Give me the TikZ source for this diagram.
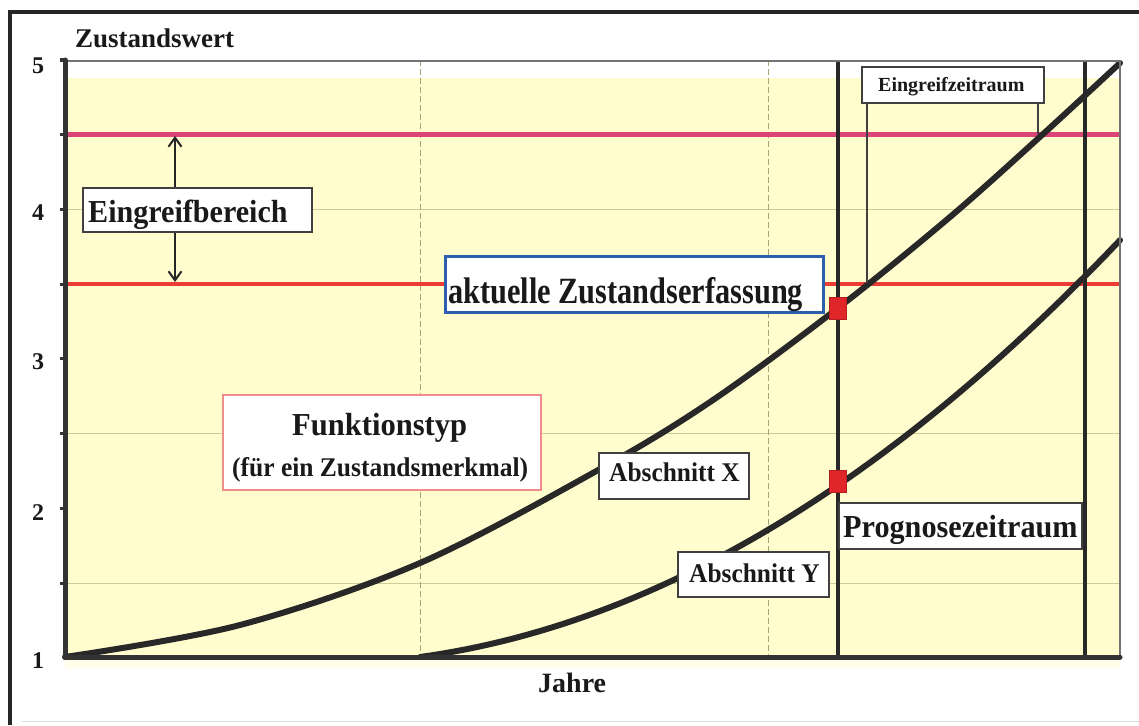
\documentclass[tikz,border=0pt]{standalone}
\usepackage{fontspec}
\setmainfont{Liberation Serif}
\usepackage{graphicx}
\usetikzlibrary{arrows.meta}
\definecolor{bgyellow}{RGB}{255,252,205}
\definecolor{pinkthr}{RGB}{218,68,118}
\definecolor{redthr}{RGB}{236,58,52}
\definecolor{curvecol}{RGB}{40,40,40}
\definecolor{gridcol}{RGB}{205,205,150}
\definecolor{bluebord}{RGB}{45,95,175}
\definecolor{pinkbord}{RGB}{240,140,140}
\definecolor{sqred}{RGB}{225,38,42}
\newcommand\lab[3]{\scalebox{#2}[1]{\fontsize{#1}{#1}\selectfont\bfseries #3}}
\tikzset{
  framestyle/.style={line width=4pt, draw=black!85},
  gridline/.style={line width=1pt, draw=gridcol},
  vgridline/.style={line width=1pt, draw=gridcol!80!black, dash pattern=on 6pt off 3pt},
  thrpink/.style={line width=5pt, draw=pinkthr},
  thrred/.style={line width=4.5pt, draw=redthr},
  curveline/.style={line width=6pt, draw=curvecol, line cap=round},
  vline/.style={line width=3.5pt, draw=curvecol},
  axisline/.style={line width=5pt, draw=black!80, line cap=round, line join=round},
  plotframe/.style={line width=1.5pt, draw=black!55},
  labbox/.style={draw=black!75, line width=1.5pt, fill=white, inner sep=0pt},
  txt/.style={inner sep=0pt, anchor=base west, text=black!90},
  numtxt/.style={inner sep=0pt, text=black!90},
  sqmark/.style={fill=sqred, draw=sqred!80!black, line width=0.5pt, minimum width=17pt, minimum height=22pt, inner sep=0pt},
  bracketline/.style={line width=1.5pt, draw=black!75},
  dblarrow/.style={line width=2pt, draw=black!85, {Straight Barb[length=9pt,width=13pt,line width=2pt]}-{Straight Barb[length=9pt,width=13pt,line width=2pt]}}
}
\begin{document}
\begin{tikzpicture}[x=1pt,y=-1pt]
\useasboundingbox (0,0) rectangle (1139,725);
\fill[white] (0,0) rectangle (1139,725);
% outer frame
\draw[framestyle] (10,725) -- (10,12) -- (1139,12);
\draw[line width=1pt, draw=black!15] (22,721) -- (1139,721);
% plot background
\fill[bgyellow] (65,78) rectangle (1120,657);
\fill[bgyellow!45] (65,657) rectangle (1120,668);
% grid
\draw[gridline] (65,209) -- (1120,209);
\draw[gridline] (65,433) -- (1120,433);
\draw[gridline] (65,583) -- (1120,583);
\draw[vgridline] (420,60) -- (420,657);
\draw[vgridline] (768,60) -- (768,657);
% thresholds
\draw[thrpink] (65,134) -- (1120,134);
\draw[thrred] (65,284) -- (1120,284);
% curves
\draw[curveline] plot[smooth, tension=0.55] coordinates {(65,657) (240,625) (420,563) (600,469) (713,400) (838,308) (950,217) (1042,135) (1120,63)};
\draw[curveline] plot[domain=0:700, samples=60] ({420+\x},{657-(6.54*(\x/100)*(\x/100)+0.1377*\x)});
% vertical lines
\draw[vline] (838,60) -- (838,657);
\draw[vline] (1085,60) -- (1085,657);
% plot frame and axes
\draw[plotframe] (65,61) -- (1120,61) -- (1120,657);
\draw[axisline] (65,60) -- (65,657) -- (1120,657);
\foreach \yy in {60,134,209,284,358,433,508,583} \draw[line width=3pt, draw=black!80] (60,\yy) -- (65,\yy);
% double arrow
\coordinate (arT) at (175,136);
\coordinate (arB) at (175,282);
\draw[dblarrow] (arT) -- (arB);
% Eingreifbereich
\node[labbox, minimum width=229pt, minimum height=44pt] (ebBox) at (197.5,210) {};
\node[txt] (ebTxt) at (88,222) {\lab{32}{0.94}{Eingreifbereich}};
% Eingreifzeitraum with bracket
\node[labbox, minimum width=182pt, minimum height=36pt] (ezBox) at (953,85) {};
\node[txt] (ezTxt) at (878,91) {\lab{20}{1.0}{Eingreifzeitraum}};
\coordinate (brL) at (867,283);
\coordinate (brR) at (1038,134);
\draw[bracketline] (ezBox.south -| brL) -- (brL);
\draw[bracketline] (ezBox.south -| brR) -- (brR);
% aktuelle Zustandserfassung
\node[labbox, draw=bluebord, line width=3pt, minimum width=378pt, minimum height=56pt] (akBox) at (634,284) {};
\node[txt] (akTxt) at (448,303) {\lab{37}{0.82}{aktuelle Zustandserfassung}};
% Funktionstyp
\node[labbox, draw=pinkbord, line width=2pt, minimum width=318pt, minimum height=95pt] (ftBox) at (382,442.5) {};
\node[txt] (ftTxt1) at (292,435) {\lab{32}{0.955}{Funktionstyp}};
\node[txt] (ftTxt2) at (232,476) {\lab{27}{0.944}{(für ein Zustandsmerkmal)}};
% Abschnitt X / Y
\node[labbox, minimum width=150pt, minimum height=46pt] (axBox) at (674,476) {};
\node[txt] (axTxt) at (609,481) {\lab{27}{0.94}{Abschnitt X}};
\node[labbox, minimum width=151pt, minimum height=45pt] (ayBox) at (753.5,574.5) {};
\node[txt] (ayTxt) at (689,582) {\lab{27}{0.94}{Abschnitt Y}};
% Prognosezeitraum
\node[labbox, minimum width=243pt, minimum height=46pt] (pzBox) at (960.5,526) {};
\node[txt] (pzTxt) at (843,537) {\lab{32}{0.944}{Prognosezeitraum}};
% red squares
\node[sqmark] (sqX) at (838,308) {};
\node[sqmark] (sqY) at (838,481) {};
% axis labels
\node[txt] (yTitle) at (75,48) {\lab{27}{1.0}{Zustandswert}};
\node[numtxt] (n5) at (38,66) {\lab{24}{1.0}{5}};
\node[numtxt] (n4) at (38,213) {\lab{24}{1.0}{4}};
\node[numtxt] (n3) at (38,362) {\lab{24}{1.0}{3}};
\node[numtxt] (n2) at (38,513) {\lab{24}{1.0}{2}};
\node[numtxt] (n1) at (38,661) {\lab{24}{1.0}{1}};
\node[txt] (xTitle) at (538,692) {\lab{28}{1.0}{Jahre}};
\end{tikzpicture}
\end{document}
